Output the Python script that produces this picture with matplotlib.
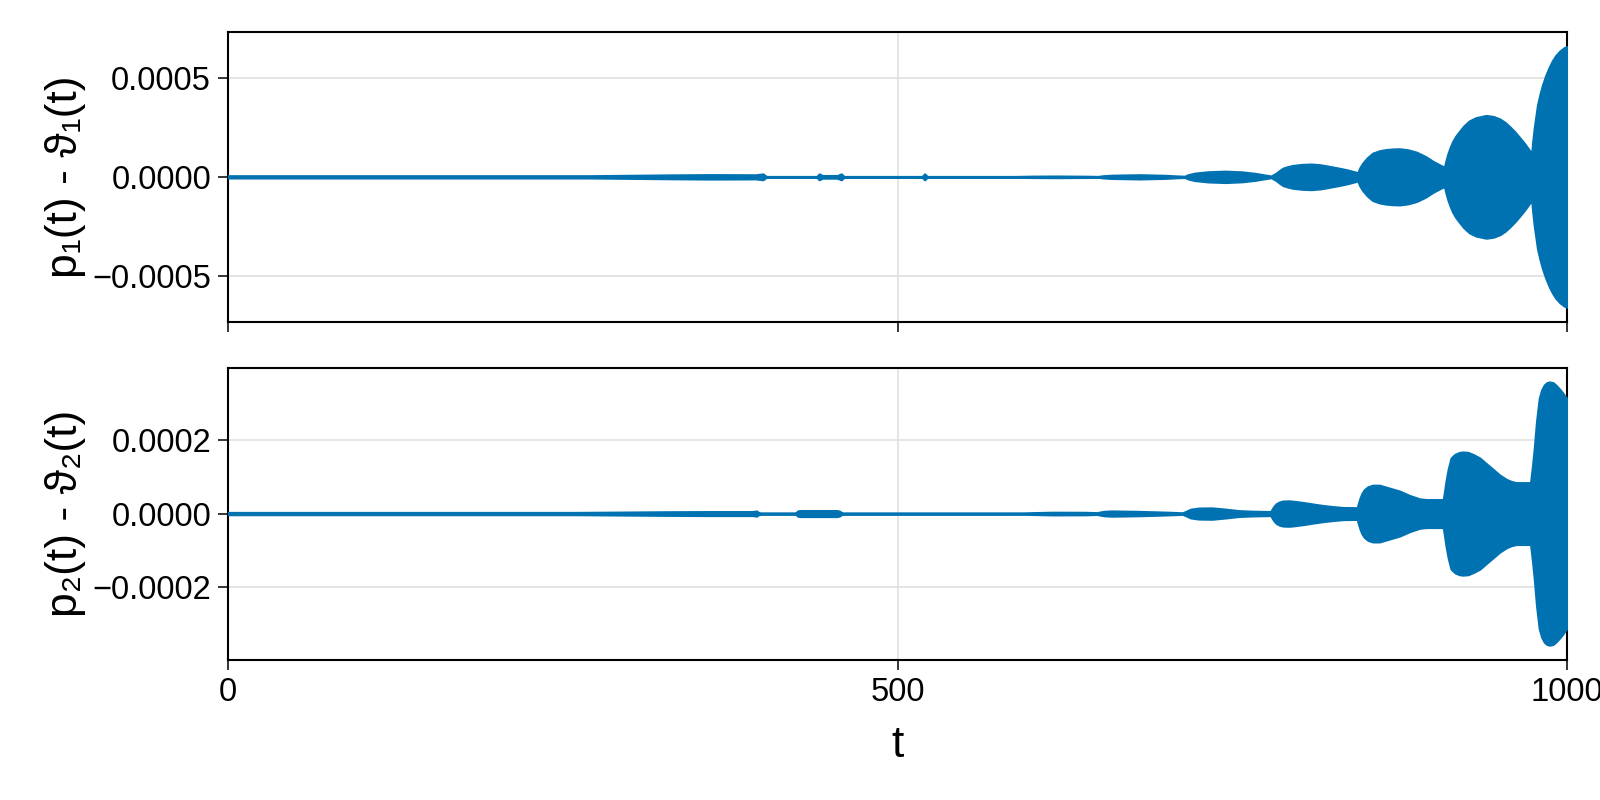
import matplotlib
matplotlib.use("Agg")
import matplotlib.pyplot as plt
import numpy as np

# envelope (half-width) of p1 - theta1
t_top = [0, 270, 300, 330, 360, 385, 394, 399.5, 402,
         440, 441.5, 444, 455, 458, 460, 518.5, 520.3, 522,
         586, 600, 619, 640, 650, 653, 660, 681, 700, 710,
         714.6, 717, 722, 732, 745, 757, 767, 775,
         779.2, 781, 783, 785.5, 788, 791.5, 795.3, 802, 809, 816, 822.7, 829, 835.2, 840,
         843.9, 845.5, 847.6, 851, 855, 860, 865, 870, 875, 881, 887.5, 894, 900, 904.5,
         908.6, 909.8, 911, 912.8, 914.8, 917, 919.7, 923, 927.2, 932, 939.6, 945,
         949.6, 953.5, 957.1, 961, 964.5, 967.8, 970.7,
         973.8, 974.7, 975.7, 977, 978.2, 980, 981.9, 984.3, 986.9, 989.3, 991.9,
         995, 998.1, 1000]
amp_top = [4e-6, 4e-6, 6e-6, 8e-6, 9.5e-6, 9e-6, 8.5e-6, 1.3e-5, 0,
           0, 1.3e-5, 5e-6, 5e-6, 1.3e-5, 0, 0, 1.3e-5, 0,
           0, 1.8e-6, 2.5e-6, 1.5e-6, 5e-7, 3.5e-6, 6.5e-6, 9e-6, 6e-6, 2.5e-6,
           1.5e-6, 9e-6, 1.7e-5, 2.4e-5, 2.7e-5, 2.35e-5, 1.6e-5, 7e-6,
           2.5e-6, 1e-5, 1.75e-5, 3.1e-5, 4.25e-5, 5e-5, 5.6e-5, 6.1e-5, 6.3e-5, 5.9e-5, 5.1e-5, 4.3e-5, 3.45e-5, 2.6e-5,
           1.9e-5, 4.5e-5, 6.8e-5, 9.5e-5, 1.18e-4, 1.3e-4, 1.36e-4, 1.39e-4, 1.4e-4, 1.35e-4, 1.23e-4, 1.02e-4, 7.6e-5, 6e-5,
           4.6e-5, 8e-5, 1.1e-4, 1.45e-4, 1.77e-4, 2.03e-4, 2.27e-4, 2.55e-4, 2.81e-4, 2.97e-4, 3.08e-4, 3.03e-4,
           2.91e-4, 2.74e-4, 2.52e-4, 2.25e-4, 1.97e-4, 1.7e-4, 1.43e-4,
           1.13e-4, 1.8e-4, 2.42e-4, 3.05e-4, 3.62e-4, 4.15e-4, 4.62e-4, 5.1e-4, 5.52e-4, 5.85e-4, 6.12e-4,
           6.35e-4, 6.51e-4, 6.56e-4]

# envelope (half-width) of p2 - theta2
t_bot = [0, 260, 290, 328, 360, 392, 394.6, 397,
         424, 425.5, 427, 455, 457, 458.5,
         586, 600, 615, 640, 649, 651, 654, 660, 680, 700,
         713, 716, 719, 725, 735, 745, 755, 765,
         778.8, 779.6, 780.4, 781.5, 783, 785.3, 787.9, 792.8, 798, 805, 811, 817.7, 825, 832.7,
         843.5, 844.5, 845.6, 847, 848.8, 851.5, 855, 860, 867.5, 875, 882.5, 889.9, 895,
         907.8, 908.8, 909.8, 911.5, 913.6, 916.5, 919.8, 922.3, 926, 930, 934.7, 939.5,
         944.7, 949.5, 954.6, 958.5, 962.1,
         973, 974.5, 975.8, 977.5, 979.5, 981.3, 983.2, 985, 987, 989.5, 992, 994.5,
         996.5, 998.2, 1000]
amp_bot = [2.2e-6, 2.2e-6, 3e-6, 4e-6, 4.5e-6, 4.5e-6, 6.2e-6, 0,
           0, 6e-6, 7.2e-6, 7.2e-6, 5e-6, 0,
           0, 1.5e-6, 2.7e-6, 2.5e-6, 1.5e-6, 3e-6, 5e-6, 6.2e-6, 5e-6, 3e-6,
           1.2e-6, 6e-6, 1.1e-5, 1.4e-5, 1.45e-5, 1.1e-5, 7e-6, 5.5e-6,
           4.5e-6, 9e-6, 1.4e-5, 2e-5, 2.6e-5, 3.05e-5, 3.3e-5, 3.35e-5, 3.15e-5, 2.8e-5, 2.45e-5, 2.1e-5, 1.8e-5, 1.55e-5,
           1.5e-5, 2.8e-5, 4.1e-5, 5.4e-5, 6.4e-5, 7.2e-5, 7.6e-5, 7.6e-5, 6.8e-5, 6e-5, 4.8e-5, 3.9e-5, 3.7e-5,
           3.7e-5, 6e-5, 8.6e-5, 1.2e-4, 1.5e-4, 1.6e-4, 1.65e-4, 1.66e-4, 1.65e-4, 1.59e-4, 1.5e-4, 1.35e-4,
           1.19e-4, 1.04e-4, 9.2e-5, 8.6e-5, 8.3e-5,
           8.3e-5, 1.3e-4, 1.77e-4, 2.5e-4, 3.12e-4, 3.35e-4, 3.48e-4, 3.54e-4, 3.56e-4, 3.54e-4, 3.46e-4, 3.36e-4,
           3.27e-4, 3.18e-4, 3.1e-4]

x_ticks = [0, 500, 1000]
top_yticks = [-0.0005, 0.0, 0.0005]
top_ylabels = ["\u22120.0005", "0.0000", "0.0005"]
bot_yticks = [-0.0002, 0.0, 0.0002]
bot_ylabels = ["\u22120.0002", "0.0000", "0.0002"]

BLUE = "#0072B2"
FONT = ["Liberation Sans", "DejaVu Sans"]
plt.rcParams["font.family"] = FONT


def style_axis(ax, yticks, ylabels, ylim, ylabel, show_x):
    ax.set_xlim(0, 1000)
    ax.set_ylim(-ylim, ylim)
    ax.set_xticks(x_ticks)
    ax.set_yticks(yticks)
    ax.set_yticklabels(ylabels)
    if show_x:
        ax.set_xticklabels([str(v) for v in x_ticks])
    else:
        ax.set_xticklabels([])
    ax.tick_params(direction="out", length=7.2, width=1.1, labelsize=23.5,
                   pad=5, color="black")
    for sp in ax.spines.values():
        sp.set_linewidth(1.5)
        sp.set_color("black")
    ax.grid(True, color="#e0e0e0", linewidth=1.2)
    ax.set_axisbelow(True)
    ax.set_ylabel(ylabel, fontsize=32)
    ax.yaxis.set_label_coords(-0.106, 0.5)


fig = plt.figure(figsize=(16, 8), dpi=100)
ax1 = fig.add_axes([0.1425, 0.5979, 0.836875, 0.3621])
ax2 = fig.add_axes([0.1425, 0.1755, 0.836875, 0.3651])

for ax, t, amp in [(ax1, t_top, amp_top), (ax2, t_bot, amp_bot)]:
    t = np.array(t)
    amp = np.array(amp)
    ax.fill_between(t, -amp, amp, color=BLUE, edgecolor=BLUE,
                    linewidth=2.0, joinstyle="round", zorder=3)

style_axis(ax1, top_yticks, top_ylabels, 0.000731, "p\u2081(t) - \u03d1\u2081(t)", False)
style_axis(ax2, bot_yticks, bot_ylabels, 0.000396, "p\u2082(t) - \u03d1\u2082(t)", True)

ax2.set_xlabel("t", fontsize=32)
ax2.xaxis.set_label_coords(0.5, -0.225)

fig.savefig("out.png", dpi=100)
